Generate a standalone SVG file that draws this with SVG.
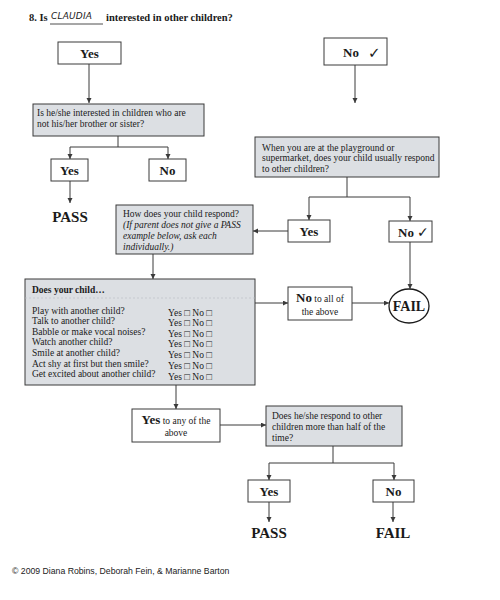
<svg xmlns="http://www.w3.org/2000/svg" width="500" height="600" viewBox="0 0 500 600">
<style>
.bg{fill:#ffffff}
.box{fill:#ffffff;stroke:#3a3a3a;stroke-width:1}
.q{fill:#dcdfe3;stroke:#3a3a3a;stroke-width:1}
.t{font-family:"Liberation Serif","Times New Roman",serif;fill:#1a1a1a}
.lbl{font-size:13px;font-weight:bold;text-anchor:middle}
.res{font-size:15px;font-weight:bold;text-anchor:middle}
.qt{font-size:9.5px}
.conn path{fill:none;stroke:#3a3a3a;stroke-width:1}
.hand{font-family:"DejaVu Sans","Noto Sans",sans-serif;font-size:9px;fill:#222;font-style:italic;letter-spacing:0.2px}
.foot{font-family:"Liberation Sans",Arial,sans-serif;font-size:8.7px;fill:#222}
.chk{font-family:"DejaVu Sans",sans-serif;fill:#1a1a1a}
</style>
<defs>
<marker id="arr" markerUnits="userSpaceOnUse" markerWidth="6" markerHeight="6" refX="5" refY="2.5" orient="auto">
<path d="M0,0 L5,2.5 L0,5 z" fill="#3a3a3a"/>
</marker>
</defs>
<rect class="bg" x="0" y="0" width="500" height="600"/>

<g id="title">
<text class="t" x="29" y="21" font-size="10.5" font-weight="bold">8. Is</text>
<text class="hand" x="51" y="19">CLAUDIA</text>
<line x1="50" y1="24" x2="103" y2="24" stroke="#222" stroke-width="0.8"/>
<text class="t" x="106" y="21" font-size="10.5" font-weight="bold">interested in other children?</text>
</g>

<g id="yes-top">
<rect class="box" x="58" y="42" width="63" height="22"/>
<text class="t lbl" x="89.5" y="58">Yes</text>
</g>

<g id="no-top">
<rect class="box" x="324" y="38" width="63" height="27"/>
<text class="t lbl" x="351" y="57">No</text>
<text class="chk" x="368" y="58" font-size="15">✓</text>
</g>

<g id="q1">
<rect class="q" x="33" y="104" width="171" height="32"/>
<text class="t qt" x="37" y="116">Is he/she interested in children who are</text>
<text class="t qt" x="37" y="127">not his/her brother or sister?</text>
</g>

<g id="q1-yes">
<rect class="box" x="51" y="159" width="37" height="22"/>
<text class="t lbl" x="69.5" y="175">Yes</text>
</g>

<g id="q1-no">
<rect class="box" x="149" y="159" width="37" height="22"/>
<text class="t lbl" x="167.5" y="175">No</text>
</g>

<g id="pass1">
<text class="t res" x="70" y="222">PASS</text>
</g>

<g id="q2">
<rect class="q" x="255" y="137" width="184" height="40"/>
<text class="t qt" x="262" y="151">When you are at the playground or</text>
<text class="t qt" x="262" y="161">supermarket, does your child usually respond</text>
<text class="t qt" x="262" y="172">to other children?</text>
</g>

<g id="q2-yes">
<rect class="box" x="288" y="220" width="42" height="22"/>
<text class="t lbl" x="309" y="236">Yes</text>
</g>

<g id="q2-no">
<rect class="box" x="389" y="221" width="43" height="21"/>
<text class="t lbl" x="406" y="237">No</text>
<text class="chk" x="417" y="237" font-size="14" font-weight="bold">✓</text>
</g>

<g id="q3">
<rect class="q" x="116" y="205" width="137" height="49"/>
<text class="t qt" x="123" y="217">How does your child respond?</text>
<text class="t qt" x="123" y="228" font-style="italic">(If parent does not give a PASS</text>
<text class="t qt" x="123" y="239" font-style="italic">example below, ask each</text>
<text class="t qt" x="123" y="250" font-style="italic">individually.)</text>
</g>

<g id="fail1">
<ellipse cx="409" cy="306" rx="20" ry="17" fill="#ffffff" stroke="#1a1a1a" stroke-width="1.3"/>
<text class="t" x="409" y="311" font-size="14" font-weight="bold" text-anchor="middle">FAIL</text>
</g>

<g id="does">
<rect class="q" x="25" y="279" width="230" height="106"/>
<text class="t" x="32" y="293" font-size="9.5" font-weight="bold">Does your child…</text>
<line x1="25" y1="298" x2="255" y2="298" stroke="#b8bcc2" stroke-width="0.6" stroke-dasharray="2,2"/>
<g class="t qt">
<text x="32" y="314">Play with another child?</text>
<text x="32" y="324">Talk to another child?</text>
<text x="32" y="335">Babble or make vocal noises?</text>
<text x="32" y="345">Watch another child?</text>
<text x="32" y="356">Smile at another child?</text>
<text x="32" y="367">Act shy at first but then smile?</text>
<text x="32" y="377">Get excited about another child?</text>
<text x="168" y="316">Yes □ No □</text>
<text x="168" y="326">Yes □ No □</text>
<text x="168" y="337">Yes □ No □</text>
<text x="168" y="347">Yes □ No □</text>
<text x="168" y="358">Yes □ No □</text>
<text x="168" y="369">Yes □ No □</text>
<text x="168" y="380">Yes □ No □</text>
</g>
</g>

<g id="no-all">
<rect class="box" x="288" y="287" width="64" height="33"/>
<text class="t" x="320" y="302" text-anchor="middle"><tspan font-size="13" font-weight="bold">No</tspan><tspan font-size="9.5"> to all of</tspan></text>
<text class="t" x="320" y="315" font-size="9.5" text-anchor="middle">the above</text>
</g>

<g id="yes-any">
<rect class="box" x="132" y="409" width="88" height="33"/>
<text class="t" x="176" y="424" text-anchor="middle"><tspan font-size="13" font-weight="bold">Yes</tspan><tspan font-size="9.5"> to any of the</tspan></text>
<text class="t" x="176" y="436" font-size="9.5" text-anchor="middle">above</text>
</g>

<g id="q4">
<rect class="q" x="266" y="406" width="136" height="40"/>
<text class="t qt" x="272" y="419">Does he/she respond to other</text>
<text class="t qt" x="272" y="430">children more than half of the</text>
<text class="t qt" x="272" y="441">time?</text>
</g>

<g id="q4-yes">
<rect class="box" x="248" y="480" width="42" height="22"/>
<text class="t lbl" x="269" y="496">Yes</text>
</g>

<g id="q4-no">
<rect class="box" x="373" y="480" width="41" height="22"/>
<text class="t lbl" x="393.5" y="496">No</text>
</g>

<g id="pass2">
<text class="t res" x="269" y="538">PASS</text>
</g>

<g id="fail2">
<text class="t res" x="393" y="538">FAIL</text>
</g>

<g id="footer">
<text class="foot" x="12" y="574">©  2009 Diana Robins, Deborah Fein, &amp; Marianne Barton</text>
</g>

<g class="conn" id="connectors">
<path d="M89,64 V103" marker-end="url(#arr)"/>
<path d="M355,65 V103" marker-end="url(#arr)"/>
<path d="M118,136 V147 M70,147 H168"/>
<path d="M70,147 V159" marker-end="url(#arr)"/>
<path d="M168,147 V159" marker-end="url(#arr)"/>
<path d="M70,181 V203" marker-end="url(#arr)"/>
<path d="M347,177 V197 M309,197 H410"/>
<path d="M309,197 V220" marker-end="url(#arr)"/>
<path d="M410,197 V221" marker-end="url(#arr)"/>
<path d="M288,231 H253" marker-end="url(#arr)"/>
<path d="M410,242 V289" marker-end="url(#arr)"/>
<path d="M153,254 V279" marker-end="url(#arr)"/>
<path d="M255,303 H288" marker-end="url(#arr)"/>
<path d="M352,303 H389" marker-end="url(#arr)"/>
<path d="M176,385 V409" marker-end="url(#arr)"/>
<path d="M220,425 H266" marker-end="url(#arr)"/>
<path d="M333,446 V463 M269,463 H394"/>
<path d="M269,463 V480" marker-end="url(#arr)"/>
<path d="M394,463 V480" marker-end="url(#arr)"/>
<path d="M269,502 V522" marker-end="url(#arr)"/>
<path d="M393,502 V522" marker-end="url(#arr)"/>
</g>
</svg>
